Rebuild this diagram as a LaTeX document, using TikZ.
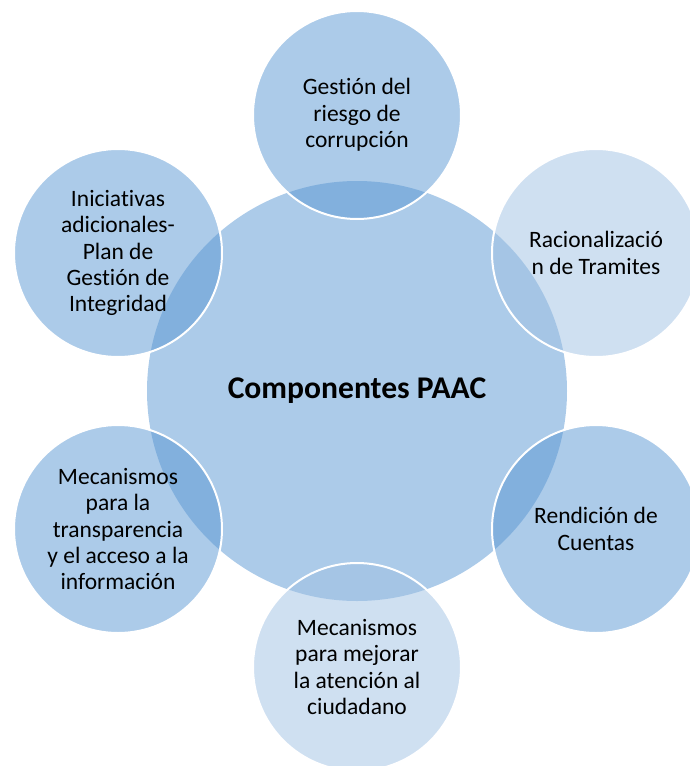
\documentclass[tikz,border=0pt]{standalone}
\usepackage{fontspec}
\setmainfont{Carlito}[Ligatures=NoCommon]
\usepackage{tikz}

\definecolor{hubblue}{RGB}{172,203,233}
\definecolor{darkblue}{RGB}{89,151,211}
\definecolor{lightblue}{RGB}{159,193,227}

\begin{document}
\begin{tikzpicture}[x=1pt,y=-1pt,
                    hub/.style={circle,fill=hubblue,minimum size=420pt,inner sep=0pt,
                      font=\bfseries\fontsize{31.6}{36}\selectfont},
                    part/.style={circle,draw=white,line width=2pt,minimum size=208pt,inner sep=0pt,
                      fill opacity=0.5,text opacity=1,align=center,
                      font=\fontsize{23.5}{26.3}\selectfont},
                    dark/.style={part,fill=darkblue},
                    light/.style={part,fill=lightblue}]

	\useasboundingbox (0,0) rectangle (689,766);

	\node[hub] (paac) at (357,391) {Componentes PAAC};

	\node[dark]  (riesgo)      at (357,115) {Gestión del\\riesgo de\\corrupción};
	\node[light] (tramites)    at (596,253) {Racionalizació\\n de Tramites};
	\node[dark]  (cuentas)     at (596,529) {Rendición de\\Cuentas};
	\node[light] (atencion)    at (357,667) {Mecanismos\\para mejorar\\la atención al\\ciudadano};
	\node[dark]  (transparencia) at (118,529) {Mecanismos\\para la\\transparencia\\y el acceso a la\\información};
	\node[dark]  (integridad)  at (118,253) {Iniciativas\\adicionales-\\Plan de\\Gestión de\\Integridad};

\end{tikzpicture}
\end{document}
